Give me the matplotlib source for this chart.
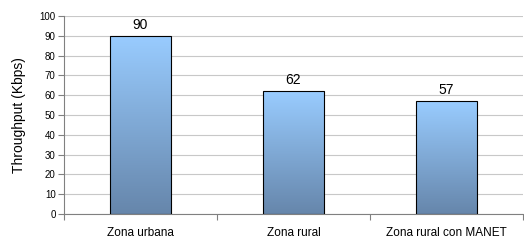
import matplotlib
matplotlib.use("Agg")
import matplotlib.pyplot as plt
import numpy as np
from matplotlib.colors import LinearSegmentedColormap

plt.rcParams['font.family'] = ['Liberation Sans', 'DejaVu Sans']

categories = ["Zona urbana", "Zona rural", "Zona rural con MANET"]
values = [90, 62, 57]
yticks = list(range(0, 101, 10))

fig = plt.figure(figsize=(5.24, 2.4), dpi=100)
ax = fig.add_axes([64/524, 26/240, 459/524, 198/240])

x = np.arange(len(categories))
bars = ax.bar(x, values, width=0.4, color='none', edgecolor='black', linewidth=0.8, zorder=3)

cmap = LinearSegmentedColormap.from_list("g", ["#6686ab", "#99ccff"])
grad = np.linspace(0, 1, 256).reshape(-1, 1)
for b in bars:
    bx, by = b.get_x(), b.get_y()
    w, h = b.get_width(), b.get_height()
    im = ax.imshow(grad, cmap=cmap, origin='lower', aspect='auto',
                   extent=[bx, bx + w, by, by + h], zorder=2)
    im.set_clip_path(b)

for xi, v in zip(x, values):
    ax.text(xi, v + 2, str(v), ha='center', va='bottom', fontsize=10)

ax.set_xlim(-0.5, 2.5)
ax.set_ylim(0, 100)
ax.set_yticks(yticks)
ax.set_xticks([-0.5, 0.5, 1.5, 2.5])
ax.set_xticklabels([])
ax.set_xticks(x, minor=True)
ax.set_xticklabels(categories, minor=True, fontsize=8.5)
ax.tick_params(axis='x', which='minor', length=0, pad=9)
ax.tick_params(axis='x', which='major', length=4, color='#808080')
ax.tick_params(axis='y', labelsize=7, length=4, color='#808080', pad=2)
ax.yaxis.grid(True, color='#c8c8c8', linewidth=0.8, zorder=0)
ax.set_axisbelow(True)
for s in ['top', 'right']:
    ax.spines[s].set_visible(False)
ax.spines['left'].set_color('#808080')
ax.spines['bottom'].set_color('#808080')
ax.set_ylabel("Throughput (Kbps)", fontsize=10, labelpad=10)

fig.savefig("out.png", dpi=100)
